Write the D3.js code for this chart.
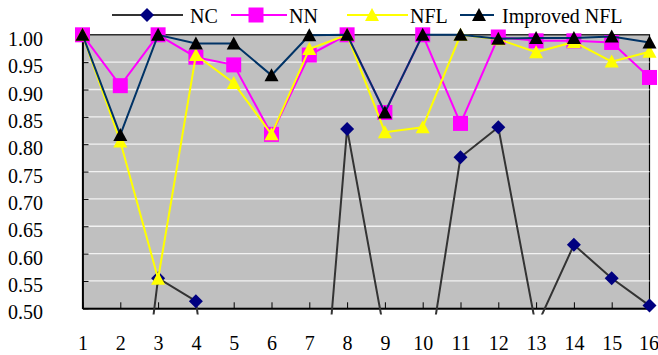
<!DOCTYPE html>
<html><head><meta charset="utf-8">
<script src="https://cdn.jsdelivr.net/npm/d3@7"></script>
</head><body style="margin:0">
<svg id="c" width="658" height="355"></svg>
<script>
const categories = ["1","2","3","4","5","6","7","8","9","10","11","12","13","14","15","16"];
const yTicks = [0.50,0.55,0.60,0.65,0.70,0.75,0.80,0.85,0.90,0.95,1.00];
const seriesNames = ["NC","NN","NFL","Improved NFL"];
const ncValues  = [0, 0, 0.555, 0.513, 0, 0, 0, 0.828, 0.45, 0.334, 0.776, 0.831, 0.465, 0.616, 0.555, 0.505];
const nnValues  = [1.00, 0.907, 1.00, 0.959, 0.945, 0.818, 0.963, 1.00, 0.858, 1.00, 0.838, 0.996, 0.989, 0.989, 0.986, 0.922];
const nflValues = [1.00, 0.805, 0.554, 0.963, 0.912, 0.818, 0.974, 1.00, 0.822, 0.831, 1.00, 0.992, 0.968, 0.987, 0.951, 0.969];
const infValues = [1.00, 0.817, 1.00, 0.984, 0.984, 0.926, 0.999, 1.00, 0.858, 1.00, 1.00, 0.993, 0.994, 0.994, 0.997, 0.986];

const FONT = '"Liberation Serif"';
const svg = d3.select("#c");
const L = 82.5, R = 649.5, T = 34.8, B = 308.3;
const x = d3.scaleLinear().domain([1, categories.length]).range([L, R]);
const y = d3.scaleLinear().domain([0.5, 1.0]).range([B, T]);

svg.append("rect").attr("x", L).attr("y", T).attr("width", R - L).attr("height", B - T)
  .attr("fill", "#C0C0C0").attr("stroke", "#000").attr("stroke-width", 1.2);

svg.append("g").selectAll("line").data(yTicks.filter(v => v > 0.5 && v < 1.0)).join("line")
  .attr("x1", L).attr("x2", R).attr("y1", d => y(d)).attr("y2", d => y(d))
  .attr("stroke", "#F2F2F2").attr("stroke-width", 1.3);

const xAxis = d3.axisBottom(x).tickValues(categories.map((c, i) => i + 1))
  .tickFormat((d, i) => categories[i]).tickSizeInner(-6).tickSizeOuter(0);
const gx = svg.append("g").attr("transform", `translate(0,${B})`).call(xAxis);
gx.attr("font-family", null).attr("font-size", null);
gx.select(".domain").attr("stroke", "#000").attr("stroke-width", 1.8);
gx.selectAll(".tick line").attr("stroke", "#000").attr("stroke-width", 1);
gx.selectAll(".tick text").attr("y", 42).attr("dy", 0).attr("fill", "#000")
  .attr("font-size", 20).style("font-family", FONT);
gx.selectAll(".tick text").filter((d, i) => i === categories.length - 1).attr("dx", -1);

const yAxis = d3.axisLeft(y).tickValues(yTicks).tickFormat(d3.format(".2f"))
  .tickSizeInner(-6).tickSizeOuter(0);
const gy = svg.append("g").attr("transform", `translate(${L},0)`).call(yAxis);
gy.attr("font-family", null).attr("font-size", null);
gy.select(".domain").attr("stroke", "#000").attr("stroke-width", 1.8);
gy.selectAll(".tick line").attr("stroke", "#000").attr("stroke-width", 1);
gy.selectAll(".tick text").attr("x", -39.5).attr("dy", 0).attr("y", 10.5).attr("fill", "#000")
  .attr("font-size", 20).style("font-family", FONT);

svg.append("defs").append("clipPath").attr("id", "clip")
  .append("rect").attr("x", L - 2).attr("y", 0).attr("width", R - L + 4).attr("height", 314.5);

const series = [
  {name: seriesNames[0], values: ncValues,  line: "#333333", marker: "diamond",  fill: "#000080"},
  {name: seriesNames[1], values: nnValues,  line: "#FF00FF", marker: "square",   fill: "#FF00FF"},
  {name: seriesNames[2], values: nflValues, line: "#FFFF00", marker: "triangle", fill: "#FFFF00"},
  {name: seriesNames[3], values: infValues, line: "#003366", marker: "triangle", fill: "#000000"}
];

function markerPath(type) {
  if (type === "diamond") return "M0,-7L7,0L0,7L-7,0Z";
  if (type === "square") return "M-7.5,-7.5H7.5V7.5H-7.5Z";
  return "M0,-7L7,6L-7,6Z";
}

const line = d3.line().x((d, i) => x(i + 1)).y(d => y(d));
series.forEach(s => {
  svg.append("path").attr("d", line(s.values)).attr("fill", "none")
    .attr("stroke", s.line).attr("stroke-width", 2).attr("clip-path", "url(#clip)");
  svg.append("g").selectAll("path")
    .data(s.values.map((v, i) => ({v, i})).filter(d => d.v >= 0.5 && d.v <= 1.0))
    .join("path").attr("d", markerPath(s.marker))
    .attr("transform", d => `translate(${x(d.i + 1)},${y(d.v)})`)
    .attr("fill", s.fill);
});

const legendItems = [
  {x1: 112, x2: 183, mx: 147, tx: 190},
  {x1: 231, x2: 287, mx: 256, tx: 289},
  {x1: 347, x2: 408, mx: 372, tx: 410},
  {x1: 460, x2: 494, mx: 479, tx: 502}
];
const ly = 15;
series.forEach((s, i) => {
  const it = legendItems[i];
  svg.append("line").attr("x1", it.x1).attr("x2", it.x2).attr("y1", ly).attr("y2", ly)
    .attr("stroke", s.line).attr("stroke-width", 2);
  svg.append("path").attr("d", markerPath(s.marker)).attr("transform", `translate(${it.mx},${ly})`)
    .attr("fill", s.fill);
  svg.append("text").attr("x", it.tx).attr("y", 22.5).attr("fill", "#000")
    .attr("font-size", 20).style("font-family", FONT)
    .text(s.name);
});
</script>
</body></html>
